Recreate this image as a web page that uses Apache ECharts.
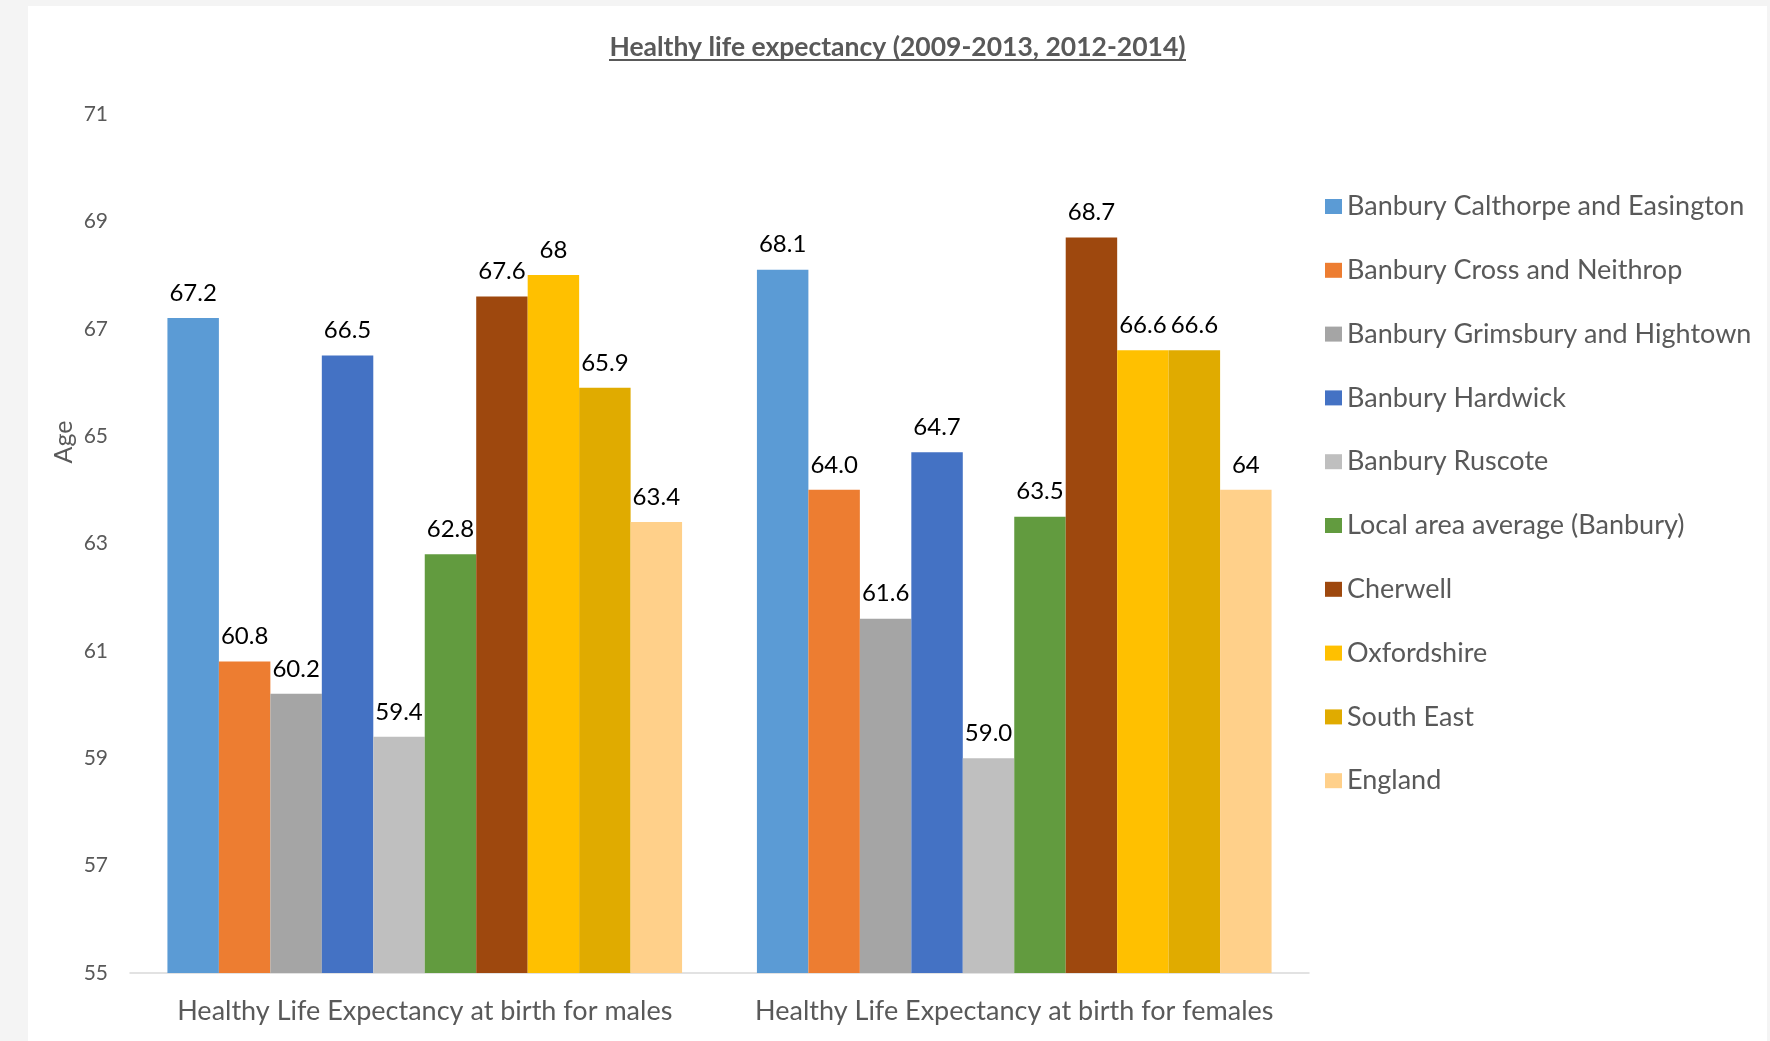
<!DOCTYPE html>
<html>
<head>
<meta charset="utf-8">
<script src="https://cdn.jsdelivr.net/npm/echarts@6/dist/echarts.min.js"></script>
<style>
html,body{margin:0;padding:0;background:#f4f4f4;width:1770px;height:1041px;overflow:hidden;}
#chart{position:absolute;left:28px;top:6px;width:1739px;height:1035px;background:#ffffff;}
</style>
</head>
<body>
<div id="chart"></div>
<script>
const titleText = 'Healthy life expectancy (2009-2013, 2012-2014)';
const categories = ['Healthy Life Expectancy at birth for males', 'Healthy Life Expectancy at birth for females'];
const seriesNames = ['Banbury Calthorpe and Easington', 'Banbury Cross and Neithrop', 'Banbury Grimsbury and Hightown', 'Banbury Hardwick', 'Banbury Ruscote', 'Local area average (Banbury)', 'Cherwell', 'Oxfordshire', 'South East', 'England'];
const maleValues = [67.2, 60.8, 60.2, 66.5, 59.4, 62.8, 67.6, 68, 65.9, 63.4];
const femaleValues = [68.1, 64.0, 61.6, 64.7, 59.0, 63.5, 68.7, 66.6, 66.6, 64];
const maleLabels = ['67.2', '60.8', '60.2', '66.5', '59.4', '62.8', '67.6', '68', '65.9', '63.4'];
const femaleLabels = ['68.1', '64.0', '61.6', '64.7', '59.0', '63.5', '68.7', '66.6', '66.6', '64'];
const yMin = 55, yMax = 71, yInterval = 2;
const colors = ['#5B9BD5', '#ED7D31', '#A5A5A5', '#4472C4', '#BFBFBF', '#629B3F', '#9E480E', '#FFC000', '#E0AB00', '#FFD08A'];

const FONT = 'Lato';
const chart = echarts.init(document.getElementById('chart'));
const series = seriesNames.map((name, i) => ({
  name: name,
  type: 'bar',
  barGap: '0%',
  barCategoryGap: '12.7%',
  itemStyle: { color: colors[i] },
  data: [maleValues[i], femaleValues[i]],
  label: {
    show: true,
    position: 'top',
    distance: 13,
    color: '#000000',
    fontFamily: FONT,
    fontSize: 24,
    formatter: p => (p.dataIndex === 0 ? maleLabels[i] : femaleLabels[i])
  }
}));

chart.setOption({
  animation: false,
  color: colors,
  title: {
    text: titleText,
    left: 'center',
    top: 23,
    textStyle: { color: '#595959', fontFamily: FONT, fontWeight: 'bold', fontSize: 26.5 }
  },
  legend: {
    orient: 'vertical',
    left: 1297,
    top: 187,
    padding: 0,
    itemWidth: 17,
    itemHeight: 15,
    itemGap: 36.8,
    icon: 'rect',
    textStyle: { color: '#595959', fontFamily: FONT, fontSize: 27, lineHeight: 24 },
    data: seriesNames
  },
  grid: { left: 102, right: 458, top: 108, bottom: 68, containLabel: false },
  xAxis: {
    type: 'category',
    data: categories,
    axisLine: { lineStyle: { color: '#d9d9d9', width: 1.5 } },
    axisTick: { show: false },
    axisLabel: { interval: 0, color: '#595959', fontFamily: FONT, fontSize: 27, margin: 25 }
  },
  yAxis: {
    type: 'value',
    min: yMin,
    max: yMax,
    interval: yInterval,
    axisLine: { show: false },
    axisTick: { show: false },
    splitLine: { show: false },
    axisLabel: { color: '#595959', fontFamily: FONT, fontSize: 21, margin: 22 }
  },
  graphic: [
    {
      type: 'text',
      rotation: Math.PI / 2,
      style: { text: 'Age', fill: '#595959', font: '25px ' + FONT, textAlign: 'center', textVerticalAlign: 'middle' },
      x: 36, y: 436
    },
    {
      type: 'line',
      shape: { x1: 581, y1: 54, x2: 1158, y2: 54 },
      style: { stroke: '#595959', lineWidth: 2 }
    }
  ],
  series: series
});
</script>
</body>
</html>
